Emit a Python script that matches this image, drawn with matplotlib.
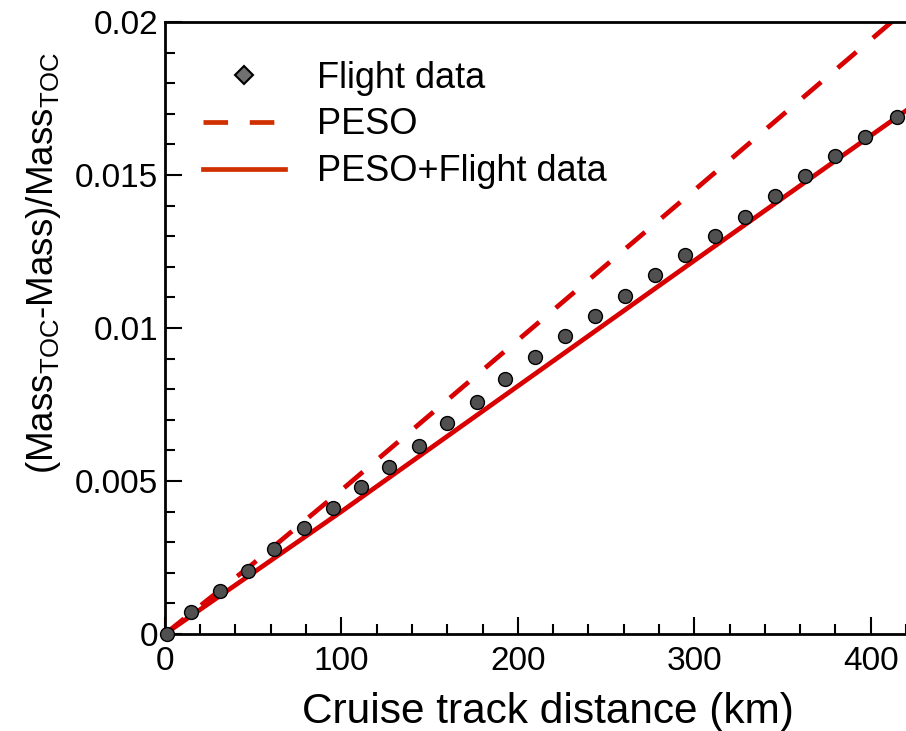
import matplotlib
matplotlib.use("Agg")
import matplotlib.pyplot as plt
from matplotlib.lines import Line2D
from matplotlib.ticker import MultipleLocator, FuncFormatter
import numpy as np

plt.rcParams['font.family'] = ['Liberation Sans', 'DejaVu Sans']
plt.rcParams['mathtext.fontset'] = 'custom'
plt.rcParams['mathtext.rm'] = 'Liberation Sans'
plt.rcParams['mathtext.it'] = 'Liberation Sans'

# flight data (cruise distance km, relative fuel burnt)
flight_x = [1, 15, 31, 47, 62, 79, 95, 111, 127, 144, 160, 177, 193, 210,
            227, 244, 261, 278, 295, 312, 329, 346, 363, 380, 397, 415]
flight_y = [0.0, 0.00072, 0.0014, 0.00206, 0.00278, 0.00346, 0.00412, 0.0048,
            0.00546, 0.00614, 0.0069, 0.00758, 0.00833, 0.00905, 0.00974,
            0.0104, 0.01105, 0.01173, 0.01239, 0.01301, 0.01363, 0.01431,
            0.01497, 0.01562, 0.01624, 0.0169]

# PESO model
peso_x = [0, 50, 100, 200, 300, 420]
peso_y = [0.0, 0.0023, 0.0047, 0.0096, 0.0145, 0.0204]

# PESO + flight data
pesofd_x = [0, 100, 200, 300, 420]
pesofd_y = [0.0, 0.0040, 0.0081, 0.0122, 0.0171]

red = '#d80000'
dash = (0, (5.2, 4.6))

fig = plt.figure(figsize=(9.06, 7.31), dpi=100)
ax = fig.add_axes([0.182, 0.1327, 0.818, 0.8373])

ax.plot(peso_x, peso_y, color=red, lw=3.4, ls=dash)
ax.plot(pesofd_x, pesofd_y, color=red, lw=3.4)
ax.plot(flight_x, flight_y, 'o', ms=10, mfc='#505050', mec='black', mew=1.0,
        clip_on=False, zorder=5)

ax.set_xlim(0, 420)
ax.set_ylim(0, 0.02)
ax.xaxis.set_major_locator(MultipleLocator(100))
ax.xaxis.set_minor_locator(MultipleLocator(20))
ax.yaxis.set_major_locator(MultipleLocator(0.005))
ax.yaxis.set_minor_locator(MultipleLocator(0.001))
ax.yaxis.set_major_formatter(FuncFormatter(lambda v, p: '%g' % round(v, 4)))

ax.tick_params(which='both', direction='in', labelsize=24, width=1.5)
ax.tick_params(which='major', length=12)
ax.tick_params(which='minor', length=7)
ax.tick_params(axis='x', pad=9)
ax.tick_params(axis='y', pad=5)
for s in ['left', 'bottom', 'top']:
    ax.spines[s].set_linewidth(2)
ax.spines['right'].set_visible(False)

ax.set_xlabel('Cruise track distance (km)', fontsize=30.5, va='baseline')
ax.xaxis.set_label_coords(0.517, -0.146)
ax.set_ylabel(r'(Mass$_{\mathrm{TOC}}$-Mass)/Mass$_{\mathrm{TOC}}$', fontsize=26.5)
ax.yaxis.set_label_coords(-0.137, 0.606)

handles = [
    Line2D([], [], ls='none', marker='D', ms=9, mfc='#707070', mec='black', mew=1.5),
    Line2D([], [], color='#d03000', lw=3.4, ls=dash),
    Line2D([], [], color='#d03000', lw=3.4),
]
ax.legend(handles, ['Flight data', 'PESO', 'PESO+Flight data'],
          loc='upper left', bbox_to_anchor=(0.008, 0.99), frameon=False,
          fontsize=26, handlelength=2.25, handletextpad=0.9, labelspacing=0.33)

fig.savefig('out.png', dpi=100)
